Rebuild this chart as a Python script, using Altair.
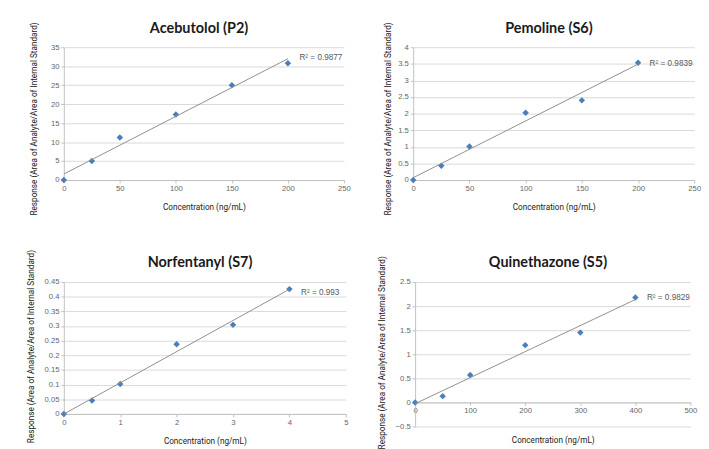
import altair as alt
import pandas as pd

# ---- data ----
titles = ["Acebutolol (P2)", "Pemoline (S6)", "Norfentanyl (S7)", "Quinethazone (S5)"]
conc_p2 = [0, 25, 50, 100, 150, 200]
resp_p2 = [0.0, 5.0, 11.2, 17.3, 25.0, 30.8]
conc_s6 = [0, 25, 50, 100, 150, 200]
resp_s6 = [0.0, 0.43, 1.01, 2.03, 2.40, 3.53]
conc_s7 = [0, 0.5, 1, 2, 3, 4]
resp_s7 = [0.0, 0.046, 0.102, 0.238, 0.304, 0.426]
conc_s5 = [0, 50, 100, 200, 300, 400]
resp_s5 = [0.0, 0.13, 0.57, 1.19, 1.45, 2.18]
r2_labels = ["R² = 0.9877", "R² = 0.9839", "R² = 0.993", "R² = 0.9829"]

YTITLE = "Response (Area of Analyte/Area of Internal Standard)"
XTITLE = "Concentration (ng/mL)"
TFONT = "Roboto"
BLUE = "#4a7ebb"


def panel(title, xs, ys, r2, xdom, xstep, ydom, ystep, w, h, xoffset=0, tpad=11, r2dy=0,
          ty=-20, ytx=-30, yty=0):
    df = pd.DataFrame({"x": xs, "y": ys})
    nx = int(round((xdom[1] - xdom[0]) / xstep))
    ny = int(round((ydom[1] - ydom[0]) / ystep))
    xticks = [round(xdom[0] + i * xstep, 6) for i in range(nx + 1)]
    yticks = [round(ydom[0] + i * ystep, 6) for i in range(ny + 1)]
    xenc = alt.X("x:Q", scale=alt.Scale(domain=xdom, nice=False),
                 axis=alt.Axis(title=XTITLE, values=xticks, grid=False, offset=xoffset,
                               titlePadding=tpad, labelFlush=False, labelOverlap=False,
                               format="~f"))
    yenc = alt.Y("y:Q", scale=alt.Scale(domain=ydom, nice=False, zero=False),
                 axis=alt.Axis(title=YTITLE, values=yticks, grid=True, labelFlush=False,
                               labelOverlap=False, format="~f", titleX=ytx,
                               titleY=h / 2 + yty, titleBaseline="middle"))
    base = alt.Chart(df).encode(x=xenc, y=yenc)
    trend = base.transform_regression("x", "y").mark_line(color="#8c8c8c", strokeWidth=1)
    pts = base.mark_point(shape="diamond", filled=True, size=45, color=BLUE, opacity=1)
    lab = base.transform_window(
        rk="row_number()", sort=[alt.SortField("x", order="descending")]
    ).transform_filter("datum.rk == 1").transform_calculate(t=f"'{r2}'").mark_text(
        align="left", dx=12, dy=r2dy, fontSize=8.5, color="#595959", font="Liberation Sans"
    ).encode(text="t:N")
    ttl = alt.Chart(pd.DataFrame({"t": [title]})).mark_text(
        fontSize=15, font="Lato", fontWeight="bold", color="#1a1a1a", baseline="middle"
    ).encode(text="t:N", x=alt.value(w / 2 - 5), y=alt.value(ty))
    return alt.layer(pts, trend, lab, ttl).properties(width=w, height=h)


p1 = panel(titles[0], conc_p2, resp_p2, r2_labels[0], [0, 250], 50, [0, 35], 5, 291, 138,
           r2dy=-6, ytx=-31, yty=5)
p2 = panel(titles[1], conc_s6, resp_s6, r2_labels[1], [0, 250], 50, [0, 4], 0.5, 292, 138,
           ytx=-27, yty=5)
p3 = panel(titles[2], conc_s7, resp_s7, r2_labels[2], [0, 5], 1, [0, 0.45], 0.05, 293, 137,
           r2dy=3, ty=-21, ytx=-35, yty=-2)
p4 = panel(titles[3], conc_s5, resp_s5, r2_labels[3], [0, 500], 100, [-0.5, 2.5], 0.5, 286, 150,
           xoffset=-25, tpad=22, ty=-21, ytx=-35, yty=-2)

chart = alt.vconcat(
    alt.hconcat(p1, p2, spacing=72, bounds="flush"),
    alt.hconcat(p3, p4, spacing=72, bounds="flush"),
    spacing=35,
).properties(padding={"left": 18, "top": 5, "right": 0, "bottom": 0}).configure_view(
    stroke=None
).configure_axis(
    labelFont="Liberation Sans", labelFontSize=8, labelColor="#666666",
    titleFont=TFONT, titleFontSize=8.5, titleFontWeight="normal", titleColor="#1a1a1a",
    gridColor="#d9d9d9", gridWidth=1, domainColor="#bfbfbf", tickColor="#bfbfbf", tickSize=3,
    labelPadding=2,
)

chart.save("out.html", embed_options={"renderer": "svg", "actions": False})
